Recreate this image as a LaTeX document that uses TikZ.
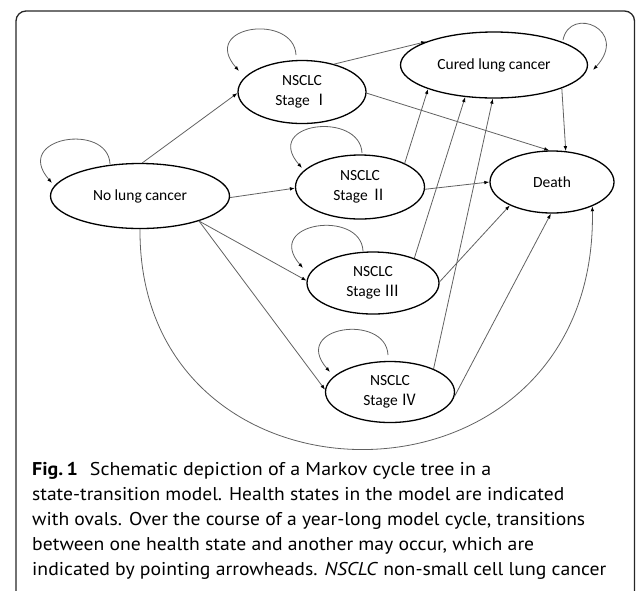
\documentclass[tikz,border=0pt]{standalone}
\usepackage{graphicx}
\usepackage{fontspec}
\setmainfont{Carlito}
\newfontfamily\capfont{PT Sans}
\newfontfamily\numfont{Noto Sans CJK SC}
\usetikzlibrary{shapes.geometric,arrows.meta}
\newcommand{\capline}[2]{\resizebox{#1pt}{\height}{#2}}
\begin{document}
\begin{tikzpicture}[x=1pt,y=-1pt,
  state/.style={ellipse, draw=black, line width=1.3pt, inner sep=0pt,
    font=\fontsize{15.5}{19.5}\selectfont, align=center},
  tr/.style={draw=black!62, line width=0.8pt,
    -{Latex[length=5pt,width=3.6pt,color=black]}},
  captxt/.style={anchor=base west, inner sep=0pt,
    font=\capfont\fontsize{18.5}{25}\selectfont}]
\useasboundingbox (0,0) rectangle (636,590);
\draw[line width=1.3pt, black!85, rounded corners=10pt]
  (16,640) -- (16,11) -- (634.5,11) -- (634.5,640);

% states
\node[state, minimum width=179pt, minimum height=65pt] (nolung) at (140,196) {No lung cancer};
\node[state, minimum width=128pt, minimum height=63pt] (s1) at (302,92) {NSCLC\\Stage {\numfont Ⅰ}};
\node[state, minimum width=129pt, minimum height=64pt] (s2) at (360,187) {NSCLC\\Stage {\numfont Ⅱ}};
\node[state, minimum width=132pt, minimum height=62pt] (s3) at (373,283) {NSCLC\\Stage {\numfont Ⅲ}};
\node[state, minimum width=129pt, minimum height=61pt] (s4) at (390,392) {NSCLC\\Stage {\numfont Ⅳ}};
\node[state, minimum width=187pt, minimum height=66pt] (cured) at (494,65) {Cured lung cancer};
\node[state, minimum width=124pt, minimum height=62pt] (death) at (552,182) {Death};

% self loops
\draw[tr] ([shift={(-30,-32)}]nolung.center) .. controls +(-2,-42) and +(-40,-46) .. ([shift={(-88,-13)}]nolung.center);
\draw[tr] ([shift={(-6,-37)}]s1.center) .. controls +(-2,-42) and +(-40,-46) .. ([shift={(-63,-21)}]s1.center);
\draw[tr] ([shift={(2,-34)}]s2.center) .. controls +(-2,-42) and +(-40,-46) .. ([shift={(-58,-19)}]s2.center);
\draw[tr] ([shift={(-10,-32)}]s3.center) .. controls +(-2,-42) and +(-40,-46) .. ([shift={(-70,-15)}]s3.center);
\draw[tr] ([shift={(-2,-37)}]s4.center) .. controls +(-2,-42) and +(-40,-46) .. ([shift={(-60,-20)}]s4.center);
\draw[tr] ([shift={(69,-25)}]cured.center) .. controls +(7,-35) and +(37,-40) .. ([shift={(99,5)}]cured.center);

% transitions
\draw[tr] (nolung.86) -- (s1.181);
\draw[tr] (nolung.-1) -- (s2.181);
\draw[tr] (nolung.-23) -- (s3.178);
\draw[tr] (nolung.-23) -- (s4.178);
\draw[tr] (s1.41) -- (cured.161);
\draw[tr] (s1.-1) -- (death.95);
\draw[tr] (cured.-19) -- (death.66);
\draw[tr] (s2.28) -- (cured.200);
\draw[tr] (s2.-2) -- (death.180);
\draw[tr] (s3.31) -- (cured.228);
\draw[tr] (s3.1) -- (death.209);
\draw[tr] (s4.28) -- (cured.268);
\draw[tr] (s4.-4) -- (death.268);
\draw[tr] (nolung.south) .. controls (138,526) and (598,526) .. (death.-31);

% caption
\node[captxt] (c1) at (32,475) {\capline{459}{\textbf{Fig.\,1}\hspace{0.6em}Schematic depiction of a Markov cycle tree in a}};
\node[captxt] (c2) at (32,500) {\capline{532}{state-transition model. Health states in the model are indicated}};
\node[captxt] (c3) at (32,525) {\capline{553}{with ovals. Over the course of a year-long model cycle, transitions}};
\node[captxt] (c4) at (32,550) {\capline{502}{between one health state and another may occur, which are}};
\node[captxt] (c5) at (32,575) {\capline{574}{indicated by pointing arrowheads. \textit{NSCLC} non-small cell lung cancer}};
\end{tikzpicture}
\end{document}
